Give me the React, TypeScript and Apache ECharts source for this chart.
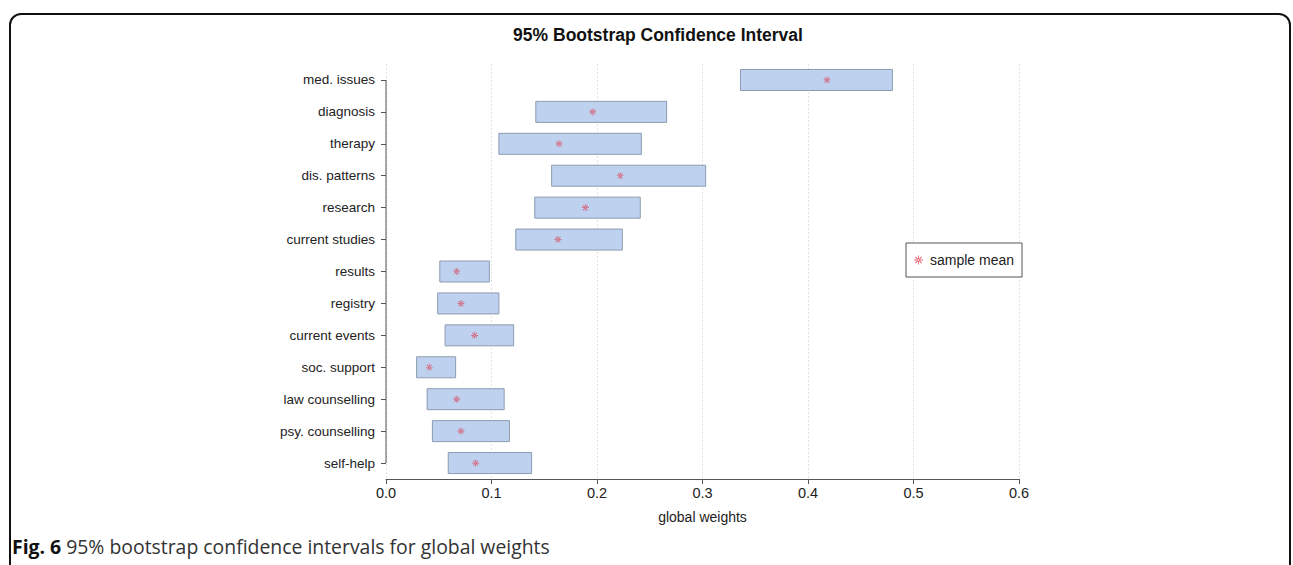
import React, { useEffect, useRef } from "react";
import * as echarts from "echarts";

const categories = [
  "med. issues",
  "diagnosis",
  "therapy",
  "dis. patterns",
  "research",
  "current studies",
  "results",
  "registry",
  "current events",
  "soc. support",
  "law counselling",
  "psy. counselling",
  "self-help",
];
const lower = [0.336, 0.142, 0.107, 0.157, 0.141, 0.123, 0.051, 0.049, 0.056, 0.029, 0.039, 0.044, 0.059];
const upper = [0.480, 0.266, 0.242, 0.303, 0.241, 0.224, 0.098, 0.107, 0.121, 0.066, 0.112, 0.117, 0.138];
const means = [0.418, 0.196, 0.164, 0.222, 0.189, 0.163, 0.067, 0.071, 0.084, 0.041, 0.067, 0.071, 0.085];
const xTicks = [0, 0.1, 0.2, 0.3, 0.4, 0.5, 0.6];

const ASTERISK =
  "path://M-0.5,-5L0.5,-5L0.5,5L-0.5,5Z" +
  "M-5,-0.5L5,-0.5L5,0.5L-5,0.5Z" +
  "M3.182,3.889L3.889,3.182L-3.182,-3.889L-3.889,-3.182Z" +
  "M3.889,-3.182L3.182,-3.889L-3.889,3.182L-3.182,3.889Z";

const FONT = "'Liberation Sans', Arial, sans-serif";

export default function App() {
  const ref = useRef<HTMLDivElement>(null);
  useEffect(() => {
    if (!ref.current) return;
    const chart = echarts.init(ref.current, undefined, { renderer: "svg" });
    const boxData = categories.map((c, i) => [lower[i], upper[i], i]);
    const meanData = categories.map((c, i) => [means[i], c]);
    chart.setOption({
      animation: false,
      backgroundColor: "#ffffff",
      textStyle: { fontFamily: FONT },
      title: {
        text: "95% Bootstrap Confidence Interval",
        left: 653,
        textAlign: "center",
        top: 21,
        textStyle: { fontFamily: FONT, fontSize: 17.5, fontWeight: "bold", color: "#111" },
      },
      legend: {
        data: [{ name: "sample mean", icon: ASTERISK }],
        left: 906,
        top: 243,
        orient: "vertical",
        padding: [10, 8, 10, 8],
        itemWidth: 9,
        itemHeight: 9,
        itemGap: 5,
        borderColor: "#555",
        borderWidth: 1,
        backgroundColor: "#fff",
        textStyle: { fontFamily: FONT, fontSize: 14, color: "#222", padding: [0, 0, 0, 2] },
      },
      grid: { left: 386, right: 274, top: 64, bottom: 86, containLabel: false },
      xAxis: {
        type: "value",
        min: 0,
        max: 0.6,
        interval: 0.1,
        name: "global weights",
        nameLocation: "middle",
        nameGap: 31,
        nameTextStyle: { fontFamily: FONT, fontSize: 14, color: "#222" },
        axisLine: { show: true, lineStyle: { color: "#555", width: 1 } },
        axisTick: { show: true, length: 5, lineStyle: { color: "#555" } },
        axisLabel: {
          margin: 6,
          fontFamily: FONT,
          fontSize: 14.5,
          color: "#222",
          formatter: (v: number) => (xTicks.includes(Math.round(v * 10) / 10) ? v.toFixed(1) : ""),
        },
        splitLine: { show: true, lineStyle: { color: "#e2e2e2", type: [2, 2], width: 1 } },
      },
      yAxis: {
        type: "category",
        data: categories,
        inverse: true,
        axisLine: { show: false },
        axisTick: { show: true, alignWithLabel: true, length: 5, lineStyle: { color: "#555" } },
        axisLabel: { margin: 11, fontFamily: FONT, fontSize: 13.5, color: "#222" },
        splitLine: { show: false },
      },
      series: [
        {
          name: "axis",
          type: "line",
          data: [
            [0, categories[0]],
            [0, categories[categories.length - 1]],
          ],
          symbol: "none",
          silent: true,
          lineStyle: { color: "#555", width: 1 },
          z: 1,
        },
        {
          name: "interval",
          type: "custom",
          data: boxData,
          encode: { x: [0, 1], y: 2 },
          renderItem: (params: any, api: any) => {
            const yi = api.value(2);
            const p1 = api.coord([api.value(0), yi]);
            const p2 = api.coord([api.value(1), yi]);
            const h = 21;
            return {
              type: "rect",
              shape: { x: p1[0], y: p1[1] - h / 2, width: p2[0] - p1[0], height: h },
              style: { fill: "#bed2ef", stroke: "#8d9bb0", lineWidth: 1 },
            };
          },
          z: 2,
        },
        {
          name: "sample mean",
          type: "scatter",
          data: meanData,
          symbol: ASTERISK,
          symbolSize: 7,
          itemStyle: { color: "#e0344e" },
          z: 3,
        },
      ],
      graphic: [
        {
          type: "rect",
          shape: { x: 10, y: 14, width: 1280, height: 600, r: [11, 11, 0, 0] },
          style: { fill: "none", stroke: "#111", lineWidth: 2 },
          silent: true,
          z: -1,
        },
        {
          type: "text",
          left: 12,
          top: 537,
          style: {
            text: "{b|Fig. 6} 95% bootstrap confidence intervals for global weights",
            font: "19.4px 'Open Sans', sans-serif",
            fill: "#333",
            rich: {
              b: { fontFamily: "'Open Sans', sans-serif", fontSize: 19.4, fontWeight: "bold", fill: "#111" },
            },
          } as any,
        },
      ],
    });
    return () => chart.dispose();
  }, []);
  return (
    <div
      ref={ref}
      style={{ position: "fixed", left: 0, top: 0, width: 1293, height: 565 }}
    />
  );
}
